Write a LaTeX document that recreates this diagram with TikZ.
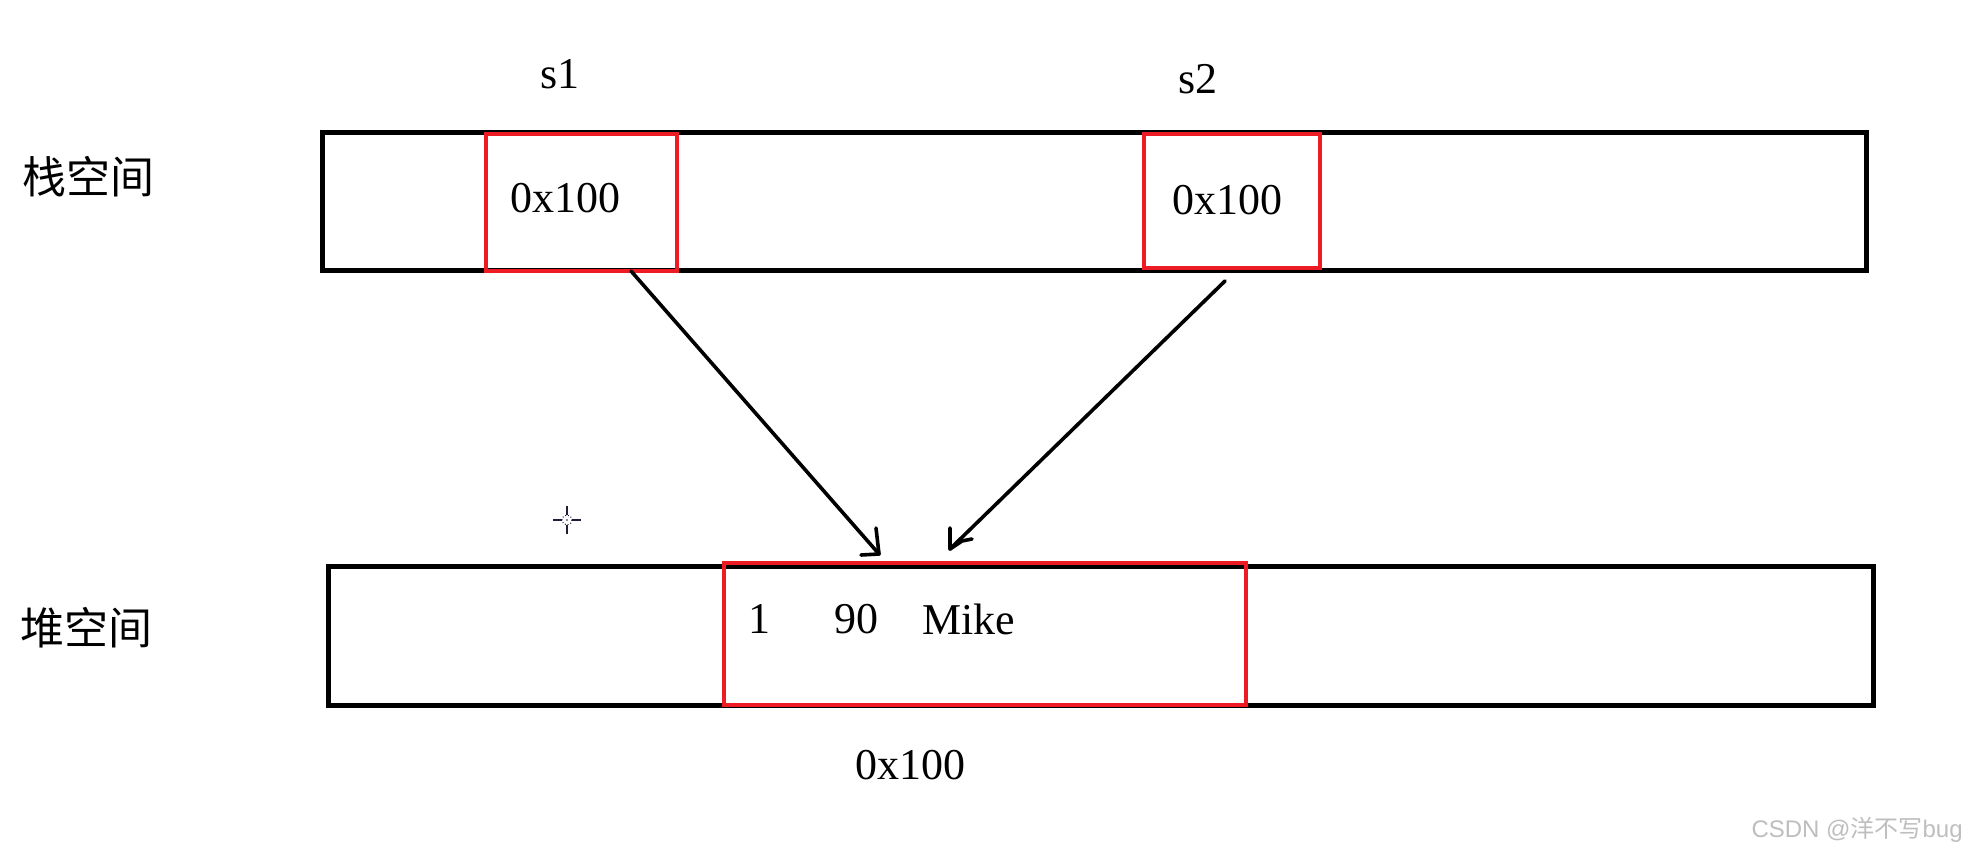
\documentclass[tikz,border=0pt]{standalone}
\usepackage{fontspec}
\usetikzlibrary{calc}
\setmainfont{Liberation Serif}
\newfontfamily\cjk{Noto Sans CJK SC}
\newfontfamily\wmfont{Liberation Sans}
\definecolor{pred}{RGB}{237,28,36}
\definecolor{cursor}{RGB}{30,30,60}
\definecolor{wmgray}{RGB}{190,190,190}
\tikzset{
  membox/.style={draw=black, line width=2.5pt, inner sep=0pt, fill=none},
  redbox/.style={draw=pred, line width=2.2pt, inner sep=0pt},
  lbl/.style={inner sep=0pt, font=\fontsize{22pt}{24pt}\selectfont},
  zh/.style={inner sep=0pt, font=\cjk\fontsize{22pt}{24pt}\selectfont},
  ptr/.style={line width=1.8pt, line cap=round, line join=round},
}
\begin{document}
\begin{tikzpicture}[x=0.5pt, y=-0.5pt]
\useasboundingbox (0,0) rectangle (1968,844);
% memory strips
\node[membox, minimum width=772pt, minimum height=69pt] (stack) at (1094,202) {};
\node[membox, minimum width=772.5pt, minimum height=69.5pt] (heap) at (1100.5,635.5) {};
% red cells
\node[redbox, minimum width=95.5pt, minimum height=68.5pt] (s1box) at (581.5,202.5) {};
\node[redbox, minimum width=88pt, minimum height=67pt] (s2box) at (1232,201) {};
\node[redbox, minimum width=261pt, minimum height=71pt] (obj) at (985,634) {};
% labels
\node[zh] (stacklbl) at (88,177) {栈空间};
\node[zh] (heaplbl) at (86,628) {堆空间};
\node[lbl] (s1) at (560,74) {s1};
\node[lbl] (s2) at (1198,79) {s2};
\node[lbl, anchor=west] (v1) at (510,198) {0x100};
\node[lbl, anchor=west] (v2) at (1172,200) {0x100};
\node[lbl, anchor=west] (o1) at (748,619) {1};
\node[lbl, anchor=west] (o2) at (834,619) {90};
\node[lbl, anchor=west] (o3) at (922,619) {Mike};
\node[lbl] (addr) at (910,765) {0x100};
% arrows (hand drawn heads)
\coordinate (a1s) at (631,271);
\coordinate (a1e) at (879,554);
\coordinate (a2s) at (1225,281);
\coordinate (a2e) at (950,549);
\draw[ptr] (a1s) -- (a1e);
\draw[ptr] ($(a1e)+(-3,-26)$) -- (a1e) -- ($(a1e)+(-18,1)$);
\draw[ptr] (a2s) -- (a2e);
\draw[ptr] ($(a2e)+(0,-21)$) -- (a2e) -- ($(a2e)+(12,-8)$) -- ($(a2e)+(22,-10)$);
% cursor mark
\coordinate (cur) at (567,520);
\draw[cursor, line width=0.6pt] ($(cur)+(-14,0)$) -- ($(cur)+(-5,0)$)
  ($(cur)+(5,0)$) -- ($(cur)+(14,0)$)
  ($(cur)+(0,-14)$) -- ($(cur)+(0,-5)$)
  ($(cur)+(0,5)$) -- ($(cur)+(0,14)$);
\draw[cursor, line width=0.5pt, densely dotted] (cur) circle[radius=5];
\fill[cursor] (cur) circle[radius=0.8];
% watermark
\node[inner sep=0pt, anchor=east, text=wmgray, font=\wmfont\fontsize{12pt}{14pt}\selectfont] (wm) at (1963,830) {CSDN @{\cjk 洋不写}bug};
\end{tikzpicture}
\end{document}
